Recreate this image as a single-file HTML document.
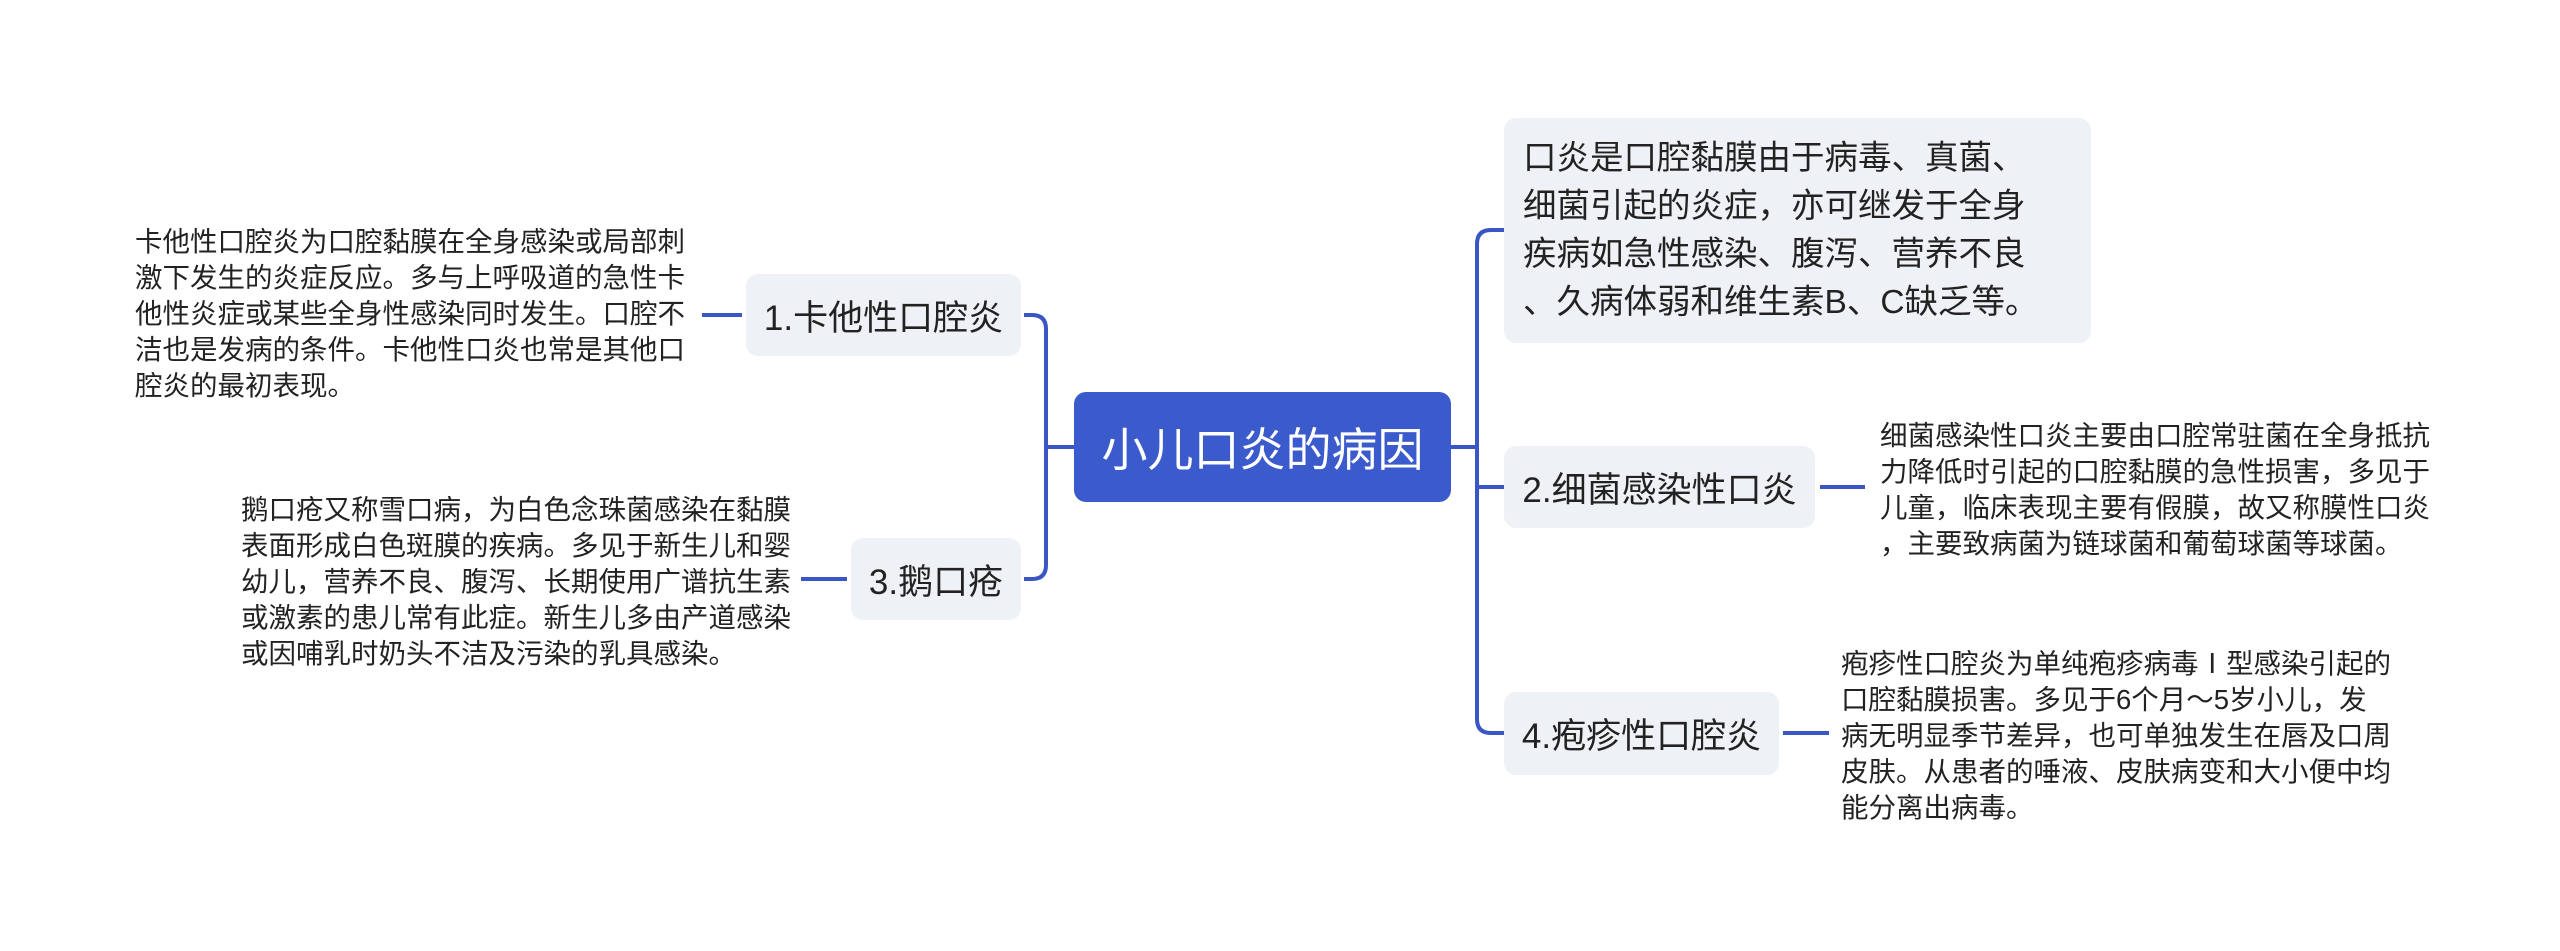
<!DOCTYPE html>
<html><head><meta charset="utf-8"><style>
html,body{margin:0;padding:0;background:#fff;}
body{width:2560px;height:951px;position:relative;overflow:hidden;font-family:"Liberation Sans","Noto Sans CJK SC",sans-serif;color:#222;}
.box{position:absolute;background:#eef1f5;border-radius:12px;display:flex;align-items:center;justify-content:center;white-space:nowrap;}
.lbl{font-size:35px;}
.txt{position:absolute;font-size:27.5px;line-height:36px;white-space:nowrap;color:#222;}
svg{position:absolute;left:-6px;top:0;}
</style></head><body>
<svg width="2560" height="951">
<g stroke="#3a56c4" stroke-width="4" fill="none">
<path d="M1457 447 H1483"/>
<path d="M1510 230 H1497 Q1483 230 1483 244 V719 Q1483 733 1497 733 H1510"/>
<path d="M1483 487 Q1483 487 1497 487 H1510"/>
<path d="M1080 447 H1052"/>
<path d="M1030 315 H1038 Q1052 315 1052 329 V565 Q1052 579 1038 579 H1030"/>
<path d="M708 315 H748"/>
<path d="M807 579 H853"/>
<path d="M1826 487 H1871"/>
<path d="M1789 733 H1835"/>
</g>
</svg>
<div class="box" style="left:1074px;top:392px;width:377px;height:110px;background:#3b5bcc;color:#fff;font-size:46px;">小儿口炎的病因</div>
<div class="box" style="left:1504px;top:118px;width:587px;height:225px;justify-content:flex-start;">
<div style="padding-left:19px;font-size:33.5px;line-height:48px;">口炎是口腔黏膜由于病毒、真菌、<br>细菌引起的炎症，亦可继发于全身<br>疾病如急性感染、腹泻、营养不良<br>、久病体弱和维生素B、C缺乏等。</div></div>
<div class="box lbl" style="left:1504px;top:446px;width:311px;height:82px;">2.细菌感染性口炎</div>
<div class="box lbl" style="left:1504px;top:692px;width:275px;height:83px;">4.疱疹性口腔炎</div>
<div class="box lbl" style="left:746px;top:274px;width:275px;height:82px;">1.卡他性口腔炎</div>
<div class="box lbl" style="left:851px;top:538px;width:170px;height:82px;">3.鹅口疮</div>
<div class="txt" style="left:135px;top:224px;">卡他性口腔炎为口腔黏膜在全身感染或局部刺<br>激下发生的炎症反应。多与上呼吸道的急性卡<br>他性炎症或某些全身性感染同时发生。口腔不<br>洁也是发病的条件。卡他性口炎也常是其他口<br>腔炎的最初表现。</div>
<div class="txt" style="left:241px;top:492px;">鹅口疮又称雪口病，为白色念珠菌感染在黏膜<br>表面形成白色斑膜的疾病。多见于新生儿和婴<br>幼儿，营养不良、腹泻、长期使用广谱抗生素<br>或激素的患儿常有此症。新生儿多由产道感染<br>或因哺乳时奶头不洁及污染的乳具感染。</div>
<div class="txt" style="left:1880px;top:418px;">细菌感染性口炎主要由口腔常驻菌在全身抵抗<br>力降低时引起的口腔黏膜的急性损害，多见于<br>儿童，临床表现主要有假膜，故又称膜性口炎<br>，主要致病菌为链球菌和葡萄球菌等球菌。</div>
<div class="txt" style="left:1841px;top:646px;">疱疹性口腔炎为单纯疱疹病毒Ⅰ型感染引起的<br>口腔黏膜损害。多见于6个月～5岁小儿，发<br>病无明显季节差异，也可单独发生在唇及口周<br>皮肤。从患者的唾液、皮肤病变和大小便中均<br>能分离出病毒。</div>
</body></html>
